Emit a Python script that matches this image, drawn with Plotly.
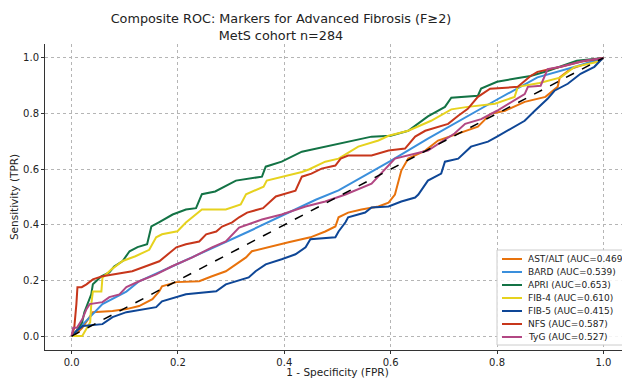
import plotly.graph_objects as go

# ---- data ----
names = ["AST/ALT", "BARD", "APRI", "FIB-4", "FIB-5", "NFS", "TyG"]
aucs = [0.469, 0.539, 0.653, 0.610, 0.415, 0.587, 0.527]

ast_x = [0, 0.01, 0.02, 0.034, 0.04, 0.077, 0.103, 0.127, 0.152, 0.165, 0.17, 0.197, 0.24, 0.264, 0.29, 0.309, 0.328, 0.339, 0.376, 0.408, 0.449, 0.464, 0.477, 0.496, 0.502, 0.52, 0.545, 0.577, 0.596, 0.608, 0.62, 0.633, 0.665, 0.689, 0.727, 0.764, 0.788, 0.815, 0.852, 0.876, 0.891, 0.914, 0.918, 0.938, 0.976, 1.0]
ast_y = [0, 0.01, 0.03, 0.068, 0.086, 0.09, 0.097, 0.108, 0.133, 0.161, 0.179, 0.194, 0.197, 0.215, 0.233, 0.258, 0.283, 0.305, 0.323, 0.337, 0.355, 0.366, 0.376, 0.394, 0.427, 0.444, 0.455, 0.466, 0.48, 0.509, 0.595, 0.638, 0.667, 0.703, 0.728, 0.753, 0.799, 0.81, 0.842, 0.853, 0.86, 0.896, 0.93, 0.96, 0.986, 1.0]

bard_x = [0, 0.02, 0.058, 0.103, 0.127, 0.2, 0.333, 0.459, 0.502, 0.6, 0.67, 0.796, 0.876, 0.95, 1.0]
bard_y = [0, 0.04, 0.115, 0.16, 0.197, 0.26, 0.376, 0.49, 0.524, 0.63, 0.71, 0.846, 0.93, 0.97, 1.0]

apri_x = [0, 0.01, 0.02, 0.024, 0.037, 0.04, 0.056, 0.071, 0.08, 0.096, 0.109, 0.124, 0.142, 0.15, 0.165, 0.19, 0.215, 0.234, 0.245, 0.27, 0.309, 0.358, 0.365, 0.395, 0.433, 0.477, 0.52, 0.564, 0.6, 0.633, 0.67, 0.702, 0.714, 0.764, 0.77, 0.8, 0.84, 0.863, 0.895, 0.95, 1.0]
apri_y = [0, 0.02, 0.05, 0.086, 0.15, 0.186, 0.215, 0.229, 0.25, 0.27, 0.305, 0.32, 0.33, 0.394, 0.41, 0.437, 0.455, 0.46, 0.51, 0.52, 0.559, 0.573, 0.609, 0.627, 0.663, 0.682, 0.70, 0.717, 0.72, 0.738, 0.79, 0.824, 0.857, 0.864, 0.89, 0.914, 0.928, 0.935, 0.953, 0.99, 1.0]

fib4_x = [0, 0.02, 0.035, 0.037, 0.04, 0.056, 0.058, 0.075, 0.096, 0.12, 0.146, 0.159, 0.17, 0.199, 0.215, 0.245, 0.29, 0.318, 0.328, 0.361, 0.367, 0.399, 0.433, 0.446, 0.477, 0.502, 0.539, 0.577, 0.596, 0.633, 0.676, 0.714, 0.745, 0.796, 0.833, 0.839, 0.88, 0.92, 0.946, 0.99, 1.0]
fib4_y = [0, 0.0, 0.05, 0.115, 0.16, 0.16, 0.21, 0.24, 0.27, 0.287, 0.31, 0.355, 0.366, 0.377, 0.408, 0.455, 0.455, 0.473, 0.51, 0.537, 0.559, 0.573, 0.59, 0.599, 0.627, 0.638, 0.681, 0.703, 0.72, 0.738, 0.774, 0.815, 0.824, 0.835, 0.86, 0.896, 0.91, 0.93, 0.968, 0.986, 1.0]

fib5_x = [0, 0.01, 0.021, 0.058, 0.077, 0.103, 0.159, 0.17, 0.215, 0.272, 0.29, 0.309, 0.333, 0.346, 0.365, 0.395, 0.421, 0.44, 0.449, 0.496, 0.502, 0.515, 0.52, 0.552, 0.564, 0.596, 0.62, 0.646, 0.652, 0.67, 0.695, 0.702, 0.727, 0.751, 0.783, 0.80, 0.82, 0.852, 0.871, 0.895, 0.908, 0.933, 0.957, 0.983, 0.994, 1.0]
fib5_y = [0, 0.02, 0.036, 0.043, 0.068, 0.086, 0.104, 0.125, 0.15, 0.161, 0.186, 0.197, 0.211, 0.233, 0.258, 0.276, 0.294, 0.319, 0.348, 0.355, 0.376, 0.409, 0.427, 0.444, 0.462, 0.466, 0.484, 0.498, 0.509, 0.559, 0.584, 0.627, 0.638, 0.681, 0.699, 0.717, 0.738, 0.774, 0.81, 0.853, 0.882, 0.907, 0.943, 0.968, 0.99, 1.0]

nfs_x = [0, 0.005, 0.009, 0.011, 0.019, 0.028, 0.04, 0.058, 0.114, 0.133, 0.165, 0.197, 0.215, 0.24, 0.253, 0.272, 0.283, 0.302, 0.315, 0.33, 0.36, 0.384, 0.403, 0.421, 0.433, 0.451, 0.47, 0.496, 0.506, 0.52, 0.564, 0.596, 0.627, 0.646, 0.665, 0.689, 0.708, 0.727, 0.745, 0.764, 0.787, 0.839, 0.863, 0.876, 0.92, 0.957, 1.0]
nfs_y = [0, 0.03, 0.115, 0.176, 0.176, 0.186, 0.204, 0.215, 0.233, 0.247, 0.269, 0.319, 0.33, 0.34, 0.366, 0.376, 0.394, 0.409, 0.427, 0.444, 0.46, 0.502, 0.513, 0.523, 0.573, 0.584, 0.602, 0.613, 0.638, 0.649, 0.649, 0.667, 0.674, 0.717, 0.738, 0.753, 0.763, 0.792, 0.817, 0.86, 0.889, 0.896, 0.935, 0.95, 0.968, 0.986, 1.0]

tyg_x = [0, 0.003, 0.01, 0.02, 0.028, 0.034, 0.058, 0.071, 0.09, 0.103, 0.127, 0.159, 0.189, 0.227, 0.264, 0.29, 0.315, 0.333, 0.358, 0.395, 0.44, 0.477, 0.515, 0.564, 0.59, 0.608, 0.67, 0.72, 0.74, 0.77, 0.80, 0.852, 0.858, 0.882, 0.895, 0.92, 0.964, 1.0]
tyg_y = [0, 0.03, 0.03, 0.06, 0.097, 0.115, 0.122, 0.14, 0.15, 0.176, 0.197, 0.222, 0.251, 0.283, 0.319, 0.34, 0.39, 0.401, 0.419, 0.437, 0.466, 0.484, 0.509, 0.548, 0.60, 0.638, 0.667, 0.728, 0.763, 0.78, 0.81, 0.87, 0.896, 0.9, 0.96, 0.968, 0.99, 1.0]

chance = [0, 1]
tick_vals = [0.0, 0.2, 0.4, 0.6, 0.8, 1.0]
tick_text = ["0.0", "0.2", "0.4", "0.6", "0.8", "1.0"]

colors = ["#E8720C", "#3A8FDC", "#137345", "#E6D21E", "#0E4696", "#C7361B", "#B24783"]
series = [(ast_x, ast_y), (bard_x, bard_y), (apri_x, apri_y), (fib4_x, fib4_y),
          (fib5_x, fib5_y), (nfs_x, nfs_y), (tyg_x, tyg_y)]

fig = go.Figure()
for (xs, ys), nm, auc, col in zip(series, names, aucs, colors):
    fig.add_trace(go.Scatter(x=xs, y=ys, mode="lines", name=f"{nm} (AUC={auc:.3f})",
                             line=dict(color=col, width=2)))
fig.add_trace(go.Scatter(x=chance, y=chance, mode="lines", showlegend=False,
                         line=dict(color="black", width=1.5, dash="dash")))

# The page body has an 8px margin: the figure is sized to fill the rest of the window.
OFF = 8
W, H = 630 - OFF, 378 - OFF
L, T, B = 45 - OFF, 44 - OFF, 28
pw, ph = W - L, H - T - B
def px(xs):   # screen x -> paper x
    return (xs - OFF - L) / pw
def py(ys):   # screen y -> paper y
    return (H - B - (ys - OFF)) / ph

# ---- compact legend box ----
fig.add_shape(type="rect", xref="paper", yref="paper",
              x0=px(497), x1=px(628), y0=py(345), y1=py(250),
              line=dict(color="#cccccc", width=1), fillcolor="rgba(255,255,255,0.85)",
              layer="above")
for i, (nm, auc, col) in enumerate(zip(names, aucs, colors)):
    yc = 259 + 13 * i
    fig.add_shape(type="line", xref="paper", yref="paper",
                  x0=px(502), x1=px(522), y0=py(yc), y1=py(yc),
                  line=dict(color=col, width=2), layer="above")
    fig.add_annotation(xref="paper", yref="paper", x=px(526), y=py(yc),
                       xanchor="left", yanchor="middle", showarrow=False,
                       text=f"{nm} (AUC={auc:.3f})",
                       font=dict(size=9, color="#222222"))

font = "DejaVu Sans, sans-serif"
axis_common = dict(range=[-0.05, 1.05], tickvals=tick_vals, ticktext=tick_text,
                   showgrid=True, gridcolor="#b5b5b5", griddash="dot", gridwidth=1,
                   zeroline=False, showline=True, linecolor="#333333", linewidth=1,
                   ticks="outside", ticklen=3, tickcolor="#333333", automargin=False,
                   tickfont=dict(size=10, color="#222222", family=font))
fig.update_layout(
    width=W, height=H,
    margin=dict(l=L, r=0, t=T, b=B, autoexpand=False),
    paper_bgcolor="white", plot_bgcolor="white",
    font=dict(family=font, color="#222222"),
    showlegend=False,
    title=dict(text="Composite ROC: Markers for Advanced Fibrosis (F≥2)<br>MetS cohort n=284",
               x=(281 - OFF) / W, xanchor="center", xref="container",
               y=1 - 15 / H, yanchor="top", yref="container",
               font=dict(size=12.8, family=font, color="#222222")),
    xaxis=dict(title=dict(text="1 - Specificity (FPR)", font=dict(size=10.5), standoff=3), **axis_common),
    yaxis=dict(title=dict(text="Sensitivity (TPR)", font=dict(size=10.5), standoff=4), **axis_common),
)
fig.write_html("out.html")
